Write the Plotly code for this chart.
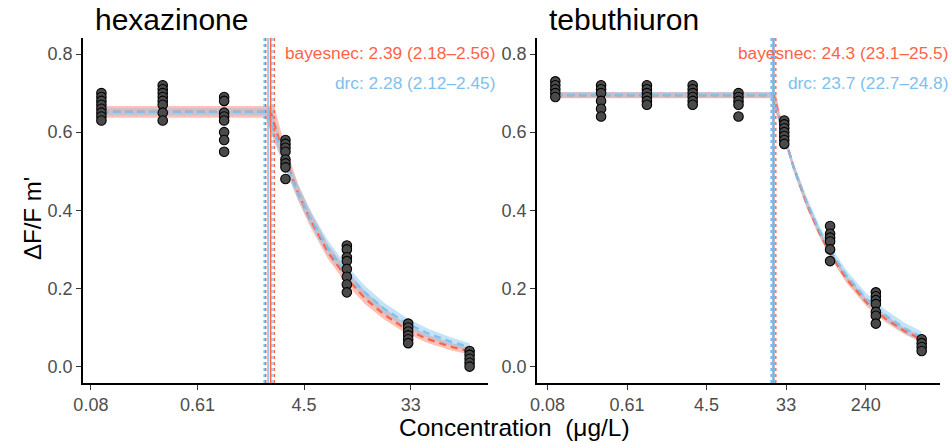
import math
import plotly.graph_objects as go

# ---------------- data ----------------
panels = ["hexazinone", "tebuthiuron"]

# observed responses (ΔF/Fm') per concentration (µg/L)
hex_conc = [0.1, 0.316, 1, 3.16, 10, 31.6, 100]
hex_resp = [
    [0.70, 0.69, 0.68, 0.67, 0.66, 0.65, 0.64, 0.63],
    [0.72, 0.71, 0.70, 0.69, 0.68, 0.67, 0.65, 0.63],
    [0.69, 0.68, 0.65, 0.64, 0.63, 0.60, 0.58, 0.55],
    [0.58, 0.57, 0.56, 0.55, 0.53, 0.52, 0.51, 0.48],
    [0.31, 0.30, 0.28, 0.27, 0.25, 0.23, 0.21, 0.19],
    [0.11, 0.10, 0.09, 0.08, 0.07, 0.06],
    [0.04, 0.03, 0.02, 0.01, 0.00],
]
teb_conc = [0.1, 0.316, 1, 3.16, 10, 31.6, 100, 316, 1000]
teb_resp = [
    [0.73, 0.72, 0.71, 0.70, 0.69],
    [0.72, 0.71, 0.70, 0.68, 0.66, 0.64],
    [0.72, 0.71, 0.70, 0.69, 0.68, 0.67],
    [0.72, 0.71, 0.70, 0.69, 0.68, 0.67],
    [0.70, 0.69, 0.68, 0.67, 0.64],
    [0.63, 0.62, 0.61, 0.60, 0.59, 0.58, 0.57],
    [0.36, 0.34, 0.33, 0.32, 0.30, 0.27],
    [0.19, 0.18, 0.17, 0.16, 0.14, 0.13, 0.11],
    [0.07, 0.06, 0.05, 0.04],
]

# NEC estimates (median, lower, upper)
hex_nec_bayes = [2.39, 2.18, 2.56]
hex_nec_drc = [2.28, 2.12, 2.45]
teb_nec_bayes = [24.3, 23.1, 25.5]
teb_nec_drc = [23.7, 22.7, 24.8]

# fitted curves (x = concentration)
hex_decay_x = [3, 4, 5, 7, 10, 14, 20, 30, 45, 70, 100]
hex_bayes_med = [0.652, 0.550, 0.445, 0.378, 0.293, 0.226, 0.175, 0.134, 0.097, 0.071, 0.051, 0.039]
hex_bayes_lo = [0.637, 0.525, 0.425, 0.360, 0.276, 0.210, 0.160, 0.121, 0.086, 0.061, 0.042, 0.031]
hex_bayes_hi = [0.667, 0.585, 0.468, 0.400, 0.313, 0.247, 0.193, 0.150, 0.110, 0.082, 0.061, 0.048]
hex_drc_med = [0.652, 0.541, 0.445, 0.382, 0.303, 0.238, 0.190, 0.149, 0.113, 0.086, 0.064, 0.050]
hex_drc_lo = [0.643, 0.520, 0.428, 0.365, 0.285, 0.222, 0.175, 0.135, 0.100, 0.074, 0.053, 0.040]
hex_drc_hi = [0.661, 0.565, 0.466, 0.402, 0.323, 0.258, 0.207, 0.164, 0.127, 0.098, 0.075, 0.060]

teb_decay_x = [30, 40, 55, 75, 100, 150, 250, 400, 650, 1000]
teb_bayes_med = [0.695, 0.610, 0.510, 0.419, 0.346, 0.289, 0.225, 0.164, 0.123, 0.091, 0.070]
teb_bayes_lo = [0.687, 0.600, 0.500, 0.408, 0.336, 0.279, 0.215, 0.154, 0.114, 0.083, 0.062]
teb_bayes_hi = [0.703, 0.620, 0.520, 0.430, 0.356, 0.299, 0.235, 0.174, 0.132, 0.099, 0.078]
teb_drc_med = [0.695, 0.605, 0.510, 0.424, 0.352, 0.297, 0.234, 0.173, 0.132, 0.098, 0.076]
teb_drc_lo = [0.688, 0.593, 0.498, 0.411, 0.339, 0.284, 0.221, 0.159, 0.118, 0.084, 0.062]
teb_drc_hi = [0.702, 0.617, 0.522, 0.437, 0.365, 0.310, 0.247, 0.187, 0.146, 0.112, 0.090]

x_tick_ln = [-2.5, -0.5, 1.5, 3.5, 5.5]
x_tick_text = ["0.08", "0.61", "4.5", "33", "240"]
y_ticks = [0.0, 0.2, 0.4, 0.6, 0.8]
y_tick_text = ["0.0", "0.2", "0.4", "0.6", "0.8"]

# ---------------- style ----------------
RED = "#FF6347"
BLUE = "#7EC0EE"
RED_FILL = "rgba(255,99,71,0.40)"
BLUE_FILL = "rgba(126,192,238,0.45)"
FONT = "Liberation Sans, Arial, sans-serif"
W, H = 952, 443
Y_RANGE = [-0.042, 0.841]

fig = go.Figure()

panel_px = [(83, 488), (537, 940)]
top_px, bot_px = 38, 383


def band(xmin, nec_lo_x, nec_hi_x, decay_x, lo, hi, color, xa, ya):
    ux = [xmin, nec_hi_x] + decay_x
    uy = [hi[0], hi[0]] + hi[1:]
    lx = [xmin, nec_lo_x] + decay_x
    ly = [lo[0], lo[0]] + lo[1:]
    fig.add_trace(go.Scatter(x=ux + lx[::-1], y=uy + ly[::-1], fill="toself", fillcolor=color,
                             line=dict(width=0), mode="lines", hoverinfo="skip",
                             showlegend=False, xaxis=xa, yaxis=ya))


def median(xmin, nec, decay_x, med, color, xa, ya):
    fig.add_trace(go.Scatter(x=[xmin, nec] + decay_x, y=[med[0], med[0]] + med[1:], mode="lines",
                             line=dict(color=color, width=2.2, dash="7px,5px"),
                             showlegend=False, hoverinfo="skip", xaxis=xa, yaxis=ya))


def vlines(nec, color, xa, ya):
    for i, v in enumerate(nec):
        fig.add_trace(go.Scatter(x=[v, v], y=Y_RANGE, mode="lines",
                                 line=dict(color=color, width=1.5,
                                           dash="solid" if i == 0 else "dot"),
                                 showlegend=False, hoverinfo="skip", xaxis=xa, yaxis=ya))


datasets = [
    (hex_conc, hex_resp, hex_nec_bayes, hex_nec_drc, hex_decay_x,
     (hex_bayes_med, hex_bayes_lo, hex_bayes_hi), (hex_drc_med, hex_drc_lo, hex_drc_hi)),
    (teb_conc, teb_resp, teb_nec_bayes, teb_nec_drc, teb_decay_x,
     (teb_bayes_med, teb_bayes_lo, teb_bayes_hi), (teb_drc_med, teb_drc_lo, teb_drc_hi)),
]

for k, (conc, resp, nb, nd, dx, bay, drc) in enumerate(datasets):
    xa = "x" if k == 0 else "x2"
    ya = "y" if k == 0 else "y2"
    xmin = conc[0]
    band(xmin, nb[1], nb[2], dx, bay[1], bay[2], RED_FILL, xa, ya)
    band(xmin, nd[1], nd[2], dx, drc[1], drc[2], BLUE_FILL, xa, ya)
    median(xmin, nb[0], dx, bay[0], RED, xa, ya)
    median(xmin, nd[0], dx, drc[0], BLUE, xa, ya)
    vlines(nb, RED, xa, ya)
    vlines(nd, BLUE, xa, ya)
    px_x, px_y = [], []
    for c, ys in zip(conc, resp):
        px_x += [c] * len(ys)
        px_y += ys
    fig.add_trace(go.Scatter(x=px_x, y=px_y, mode="markers",
                             marker=dict(size=9.5, color="#4a4a4a", line=dict(color="black", width=1.1)),
                             showlegend=False, xaxis=xa, yaxis=ya))

    lo_ln, hi_ln = math.log(conc[0]), math.log(conc[-1])
    pad = 0.05 * (hi_ln - lo_ln)
    xr = [(lo_ln - pad) / math.log(10), (hi_ln + pad) / math.log(10)]
    x0p, x1p = panel_px[k]
    axis_common = dict(showgrid=False, zeroline=False, showline=True, linecolor="black", linewidth=1.6,
                       ticks="outside", ticklen=5, tickwidth=1.2, tickcolor="#333333", automargin=False,
                       tickfont=dict(family=FONT, size=18, color="#4d4d4d"))
    fig.update_layout(**{
        ("xaxis" if k == 0 else "xaxis2"): dict(
            type="log", range=xr, domain=[x0p / W, x1p / W],
            tickvals=[math.exp(t) for t in x_tick_ln], ticktext=x_tick_text,
            anchor=ya, **axis_common),
        ("yaxis" if k == 0 else "yaxis2"): dict(
            range=Y_RANGE, domain=[1 - bot_px / H, 1 - top_px / H],
            tickvals=y_ticks, ticktext=y_tick_text, anchor=xa, **axis_common),
    })

    ann_x = [1.022, 1.026][k]
    fig.add_annotation(xref=f"{xa} domain", yref=ya, x=ann_x, y=0.803, xanchor="right", yanchor="middle",
                       text=f"bayesnec: {nb[0]} ({nb[1]}\u2013{nb[2]})", showarrow=False,
                       font=dict(family=FONT, size=17.3, color=RED))
    fig.add_annotation(xref=f"{xa} domain", yref=ya, x=ann_x, y=0.725, xanchor="right", yanchor="middle",
                       text=f"drc: {nd[0]} ({nd[1]}\u2013{nd[2]})", showarrow=False,
                       font=dict(family=FONT, size=17.3, color=BLUE))
    fig.add_annotation(xref="paper", yref="paper", x=(x0p + 10) / W, y=1 - 20 / H,
                       xanchor="left", yanchor="middle", text=panels[k], showarrow=False,
                       font=dict(family=FONT, size=30, color="black"))

fig.add_annotation(xref="paper", yref="paper", x=32 / W, y=1 - 219 / H, textangle=-90,
                   xanchor="center", yanchor="middle", text="\u0394F/F m'", showarrow=False,
                   font=dict(family=FONT, size=24, color="black"))
fig.add_annotation(xref="paper", yref="paper", x=514 / W, y=1 - 427 / H,
                   xanchor="center", yanchor="middle", text="Concentration  (\u03bcg/L)", showarrow=False,
                   font=dict(family=FONT, size=24.5, color="black"))

fig.update_layout(width=W, height=H, margin=dict(l=0, r=0, t=0, b=0, autoexpand=False),
                  plot_bgcolor="white", paper_bgcolor="white", showlegend=False)

fig.write_html("out.html")
